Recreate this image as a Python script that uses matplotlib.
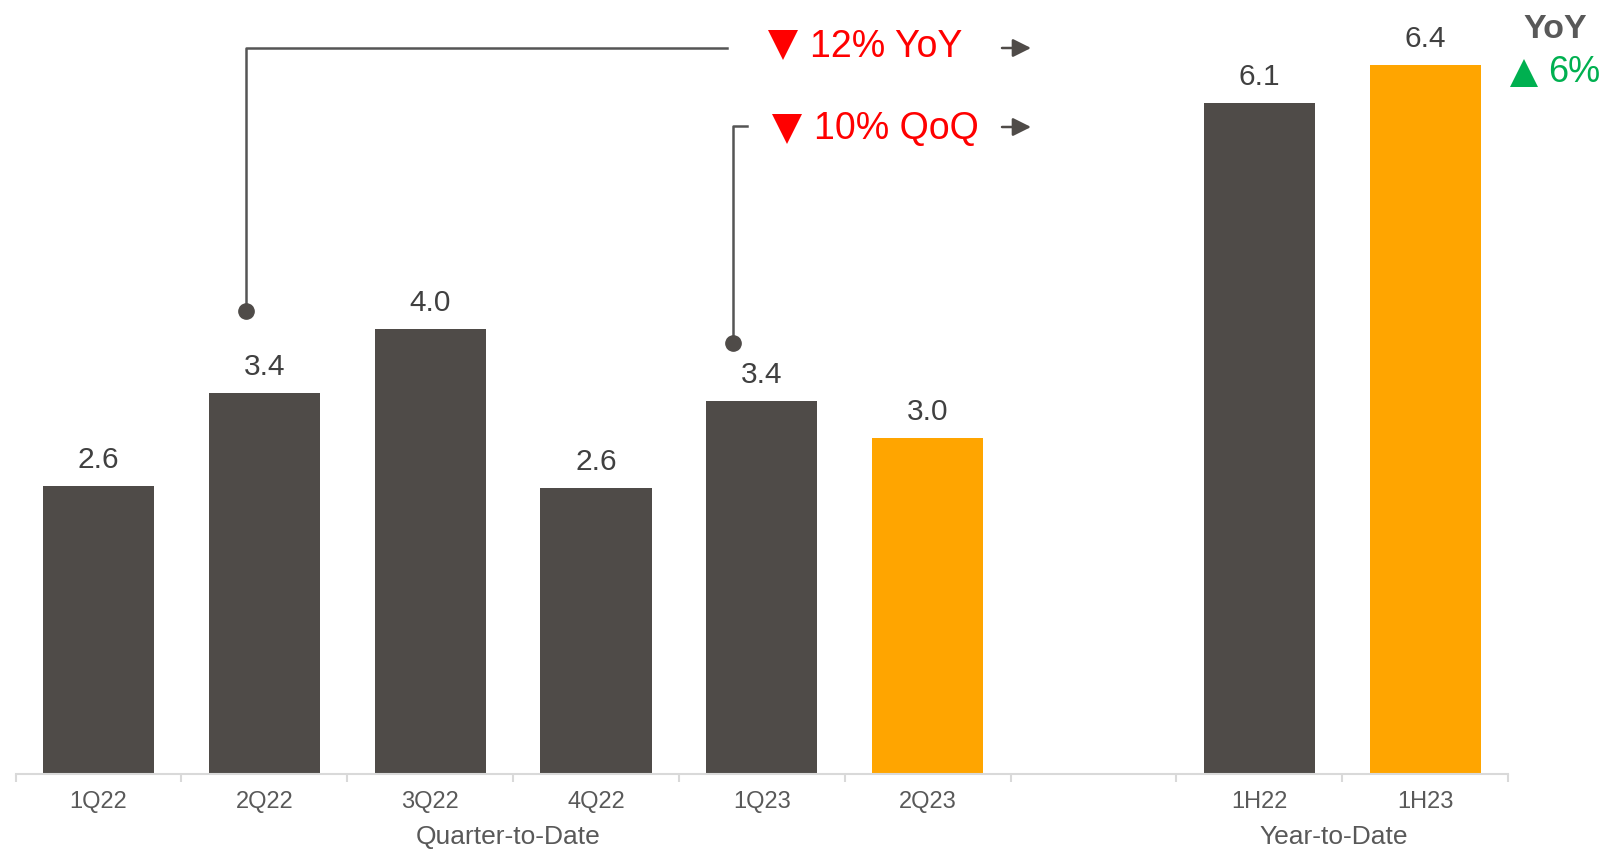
import matplotlib.pyplot as plt
from matplotlib.transforms import Affine2D

categories = ['1Q22', '2Q22', '3Q22', '4Q22', '1Q23', '2Q23', '', '1H22', '1H23']
values = [2.60, 3.44, 4.02, 2.58, 3.37, 3.03, None, 6.06, 6.40]
highlight = ['1Q22', '2Q22', '3Q22', '4Q22', '1Q23', '1H22']
groups = ['Quarter-to-Date', 'Year-to-Date']
group_pos = [2.47, 7.45]

DARK = '#4F4B48'
ORANGE = '#FFA500'
TXT = '#595959'
W, H = 1602, 849

plt.rcParams['font.family'] = ['Liberation Sans', 'DejaVu Sans']

fig = plt.figure(figsize=(W / 100, H / 100), dpi=100)
ax = fig.add_axes([15.6 / W, (H - 774) / H, (1508 - 15.6) / W, 774 / H])
# pixel transform, origin top-left of figure
pix = Affine2D().scale(1 / W, -1 / H).translate(0, 1) + fig.transFigure

for i, (c, v) in enumerate(zip(categories, values)):
    if v is None:
        continue
    col = DARK if c in highlight else ORANGE
    ax.bar(i, v, width=0.67, color=col, zorder=2)
    ax.annotate(f'{v:.1f}', (i, v), xytext=(0, 18), textcoords='offset pixels',
                ha='center', va='baseline', fontsize=21.5, color='#404040')

ax.set_xlim(-0.5, 8.5)
ax.set_ylim(0, 774 / 110.8)
for s in ['top', 'right', 'left']:
    ax.spines[s].set_visible(False)
ax.spines['bottom'].set_color('#D9D9D9')
ax.spines['bottom'].set_linewidth(1.5)
ax.set_yticks([])
ax.set_xticks([i - 0.5 for i in range(10)])
ax.set_xticklabels([])
ax.tick_params(axis='x', length=6, width=1.5, color='#D9D9D9')
for i, c in enumerate(categories):
    ax.text(i, -28 / 110.8, c, ha='center', va='center', fontsize=17, color=TXT)
for g, p in zip(groups, group_pos):
    ax.text(p, -63 / 110.8, g, ha='center', va='center', fontsize=19, color=TXT)

# bracket connectors
lc = '#555555'
ax.plot([246, 246, 727], [311, 48, 48], color=lc, lw=1.8, transform=pix, clip_on=False)
ax.plot([246], [311], 'o', color=DARK, ms=11, transform=pix, clip_on=False)
ax.plot([733, 733, 747], [343, 126, 126], color=lc, lw=1.8, transform=pix, clip_on=False)
ax.plot([733], [343], 'o', color=DARK, ms=11, transform=pix, clip_on=False)

# change markers
ax.plot([783], [45], 'v', color='#FF0000', ms=21, mew=0, transform=pix, clip_on=False)
ax.plot([787], [129], 'v', color='#FF0000', ms=21, mew=0, transform=pix, clip_on=False)
ax.plot([1524], [73], '^', color='#00B050', ms=20, mew=0, transform=pix, clip_on=False)

ax.text(810, 47, '12% YoY', transform=pix, ha='left', va='center', fontsize=27, color='#FF0000')
ax.text(814, 129, '10% QoQ', transform=pix, ha='left', va='center', fontsize=27, color='#FF0000')

for y in [48, 127]:
    ax.annotate('', xy=(1031, y), xytext=(1002, y), xycoords=pix, textcoords=pix,
                arrowprops=dict(arrowstyle='-|>,head_length=1.1,head_width=0.55',
                                color=DARK, lw=1.8, shrinkA=0, shrinkB=0))

ax.text(1555, 30, 'YoY', transform=pix, ha='center', va='center', fontsize=24.5,
        fontweight='bold', color=TXT)
ax.text(1548, 73, '6%', transform=pix, ha='left', va='center', fontsize=26, color='#00B050')

fig.savefig('out.png', dpi=100)
